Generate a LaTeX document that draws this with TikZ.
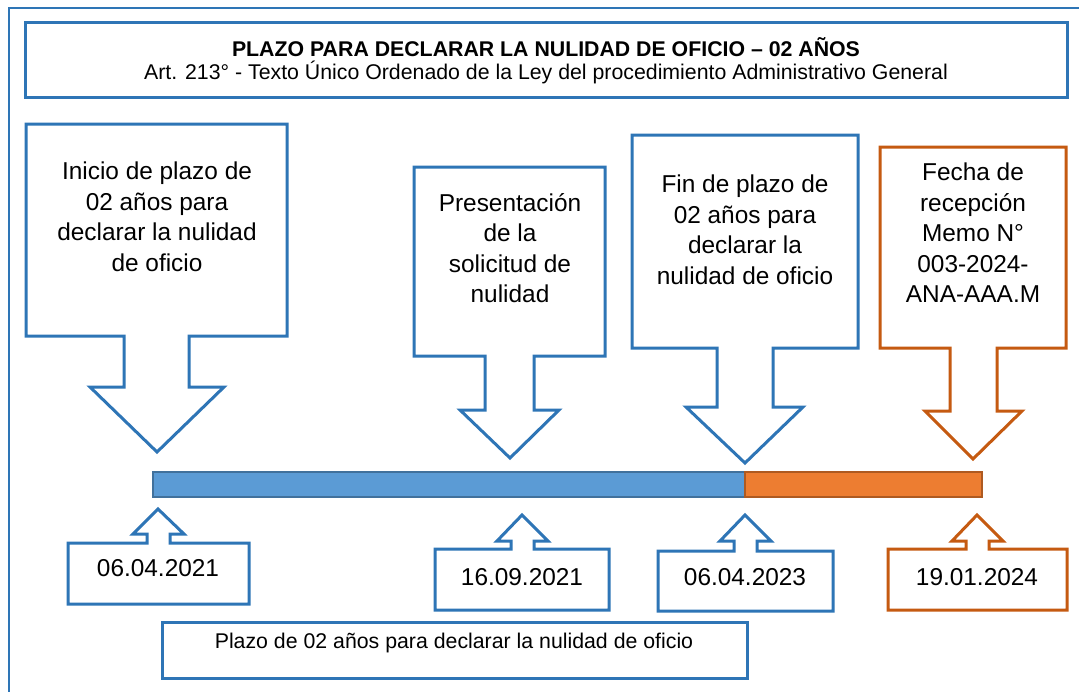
\documentclass[tikz,border=0pt]{standalone}
\usepackage{fontspec}
\setmainfont{Liberation Sans}
\usepackage{tikz}
\definecolor{azul}{HTML}{2E75B6}
\definecolor{naranja}{HTML}{C55A11}
\definecolor{azulbarra}{HTML}{5B9BD5}
\definecolor{azulborde}{HTML}{41719C}
\definecolor{naranjabarra}{HTML}{ED7D31}
\definecolor{naranjaborde}{HTML}{AE5A21}

\begin{document}
\begin{tikzpicture}[x=1pt, y=-1pt,
        lineaazul/.style={draw=azul, line width=3pt, fill=white},
        lineanaranja/.style={draw=naranja, line width=3pt, fill=white},
        texto/.style={align=center, inner sep=0pt, font=\fontsize{24.4}{30.5}\selectfont},
        textochico/.style={align=center, inner sep=0pt, font=\fontsize{21.3}{25.5}\selectfont}]
    \clip (0,0) rectangle (1079,691);
    \fill [white] (0,0) rectangle (1079,691);
    \draw [azul, line width=2pt] (9,700) -- (9,8) -- (1090,8);

    % titulo
    \draw [lineaazul] (25,22) rectangle (1067,97);
    \node [textochico, font=\fontsize{21.3}{25.5}\selectfont\bfseries] (titulo) at (546,47) {PLAZO PARA DECLARAR LA NULIDAD DE OFICIO – 02 AÑOS};
    \node [textochico] (subtitulo) at (546,72) {Art. 213° - Texto Único Ordenado de la Ley del procedimiento Administrativo General};

    % llamadas de arriba
    \draw [lineaazul] (26,124) -- (287,124) -- (287,336) -- (189,336) -- (189,387) -- (224,387) -- (157,452)
        -- (90,387) -- (124,387) -- (124,336) -- (26,336) -- cycle;
    \draw [lineaazul] (414,167) -- (605,167) -- (605,356) -- (534,356) -- (534,410) -- (559,410) -- (510,458)
        -- (460,410) -- (485,410) -- (485,356) -- (414,356) -- cycle;
    \draw [lineaazul] (632,135) -- (858,135) -- (858,348) -- (773,348) -- (773,407) -- (803,407) -- (745,463)
        -- (686,407) -- (717,407) -- (717,348) -- (632,348) -- cycle;
    \draw [lineanaranja] (880,147) -- (1066,147) -- (1066,348) -- (997,348) -- (997,411) -- (1022,411) -- (973,459)
        -- (925,411) -- (950,411) -- (950,348) -- (880,348) -- cycle;
    \node [texto] (inicio) at (157,217) {Inicio de plazo de\\02 años para\\declarar la nulidad\\de oficio};
    \node [texto] (presentacion) at (510,248) {Presentación\\de la\\solicitud de\\nulidad};
    \node [texto] (fin) at (745,230) {Fin de plazo de\\02 años para\\declarar la\\nulidad de oficio};
    \node [texto] (recepcion) at (973,233) {Fecha de\\recepción\\Memo N°\\003-2024-\\ANA-AAA.M};

    % linea de tiempo
    \draw [fill=azulbarra, draw=azulborde, line width=2pt] (153,472) rectangle (745,497);
    \draw [fill=naranjabarra, draw=naranjaborde, line width=2pt] (745,472) rectangle (982,497);

    % llamadas de abajo (fechas)
    \draw [lineaazul] (68,543) -- (147,543) -- (147,534) -- (133,534) -- (158,509) -- (184,534) -- (170,534)
        -- (170,543) -- (249,543) -- (249,604) -- (68,604) -- cycle;
    \draw [lineaazul] (435,549) -- (511,549) -- (511,541) -- (497,541) -- (522,515) -- (548,541) -- (534,541)
        -- (534,549) -- (609,549) -- (609,610) -- (435,610) -- cycle;
    \draw [lineaazul] (658,551) -- (734,551) -- (734,541) -- (720,541) -- (745,515) -- (771,541) -- (757,541)
        -- (757,551) -- (833,551) -- (833,611) -- (658,611) -- cycle;
    \draw [lineanaranja] (888,549) -- (966,549) -- (966,541) -- (952,541) -- (977,515) -- (1003,541) -- (989,541)
        -- (989,549) -- (1067,549) -- (1067,610) -- (888,610) -- cycle;
    \node [texto] (fecha1) at (158,568) {06.04.2021};
    \node [texto] (fecha2) at (522,577) {16.09.2021};
    \node [texto] (fecha3) at (745,577) {06.04.2023};
    \node [texto] (fecha4) at (977,577) {19.01.2024};

    % plazo
    \draw [lineaazul] (162,622) rectangle (747,678);
    \node [textochico] (plazo) at (454,643) {Plazo de 02 años para declarar la nulidad de oficio};
\end{tikzpicture}
\end{document}
